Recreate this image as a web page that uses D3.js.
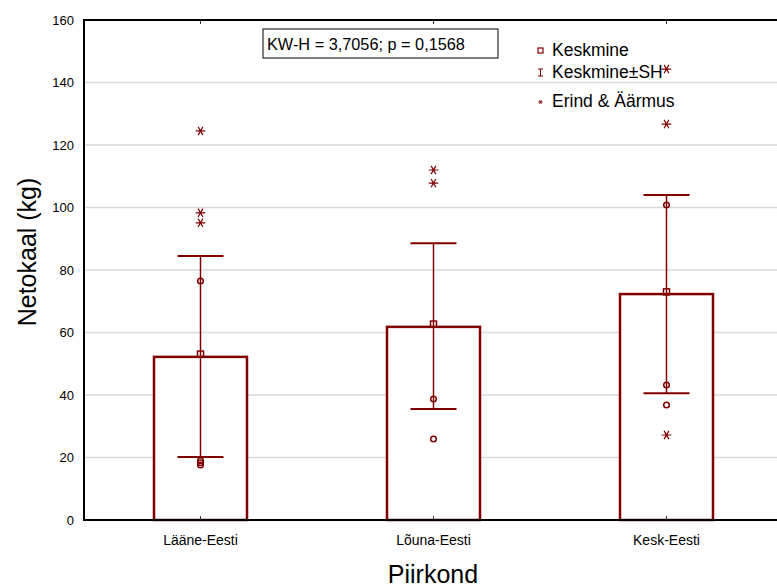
<!DOCTYPE html>
<html>
<head>
<meta charset="utf-8">
<script src="https://d3js.org/d3.v7.min.js"></script>
<style>
  body { margin: 0; background: #fff; }
  svg { font-family: "Liberation Sans", Arial, sans-serif; }
</style>
</head>
<body>
<div id="viz"></div>
<script>
// regions and summary values
var regions = ["Lääne-Eesti", "Lõuna-Eesti", "Kesk-Eesti"];
var barValues = [52.2, 61.8, 72.3];
var means = [53.1, 62.7, 73.0];
var seHigh = [84.5, 88.6, 104.0];
var seLow = [20.2, 35.5, 40.6];
// outliers (circles) and extremes (stars)
var outliers = [[76.5, 17.6, 18.3, 19.0], [38.7, 25.9], [100.8, 43.2, 36.8]];
var extremes = [[124.5, 98.3, 95.1], [112.0, 107.8], [126.7, 144.3, 27.2]];
var yTicks = [0, 20, 40, 60, 80, 100, 120, 140, 160];
var statText = "KW-H = 3,7056; p = 0,1568";
var legendLabels = ["Keskmine", "Keskmine±SH", "Erind & Äärmus"];

var W = 777, H = 587;
var red = "#800000";
var pLeft = 84, pRight = 783, pTop = 20, pBottom = 520;

var svg = d3.select("#viz").append("svg").attr("width", W).attr("height", H);

var x = d3.scaleBand().domain(regions).range([pLeft, pRight]);
var y = d3.scaleLinear().domain([0, 160]).range([pBottom, pTop]);

// grid lines
svg.append("g").selectAll("line").data(yTicks.slice(1, -1)).enter().append("line")
  .attr("x1", pLeft).attr("x2", pRight)
  .attr("y1", function(d) { return y(d); }).attr("y2", function(d) { return y(d); })
  .style("stroke", "#d9d9d9").style("stroke-width", 1.3);

// y tick labels
svg.append("g").selectAll("text").data(yTicks).enter().append("text")
  .attr("x", pLeft - 10).attr("y", function(d) { return y(d) + 4.5; })
  .attr("text-anchor", "end").style("font-size", "13px").text(function(d) { return d; });

// bars
var bw = 93;
svg.append("g").selectAll("rect").data(regions).enter().append("rect")
  .attr("x", function(d) { return x(d) + x.bandwidth() / 2 - bw / 2; })
  .attr("y", function(d, i) { return y(barValues[i]); })
  .attr("width", bw)
  .attr("height", function(d, i) { return pBottom - y(barValues[i]); })
  .style("fill", "white").style("stroke", red).style("stroke-width", 2.5);

// error bars
var cap = 23;
var eb = svg.append("g").selectAll("g").data(regions).enter().append("g")
  .attr("transform", function(d) { return "translate(" + (x(d) + x.bandwidth() / 2) + ",0)"; });
eb.append("line").attr("x1", 0).attr("x2", 0)
  .attr("y1", function(d, i) { return y(seHigh[i]); })
  .attr("y2", function(d, i) { return y(seLow[i]); })
  .style("stroke", red).style("stroke-width", 1.5);
eb.append("line").attr("x1", -cap).attr("x2", cap)
  .attr("y1", function(d, i) { return y(seHigh[i]); })
  .attr("y2", function(d, i) { return y(seHigh[i]); })
  .style("stroke", red).style("stroke-width", 2);
eb.append("line").attr("x1", -cap).attr("x2", cap)
  .attr("y1", function(d, i) { return y(seLow[i]); })
  .attr("y2", function(d, i) { return y(seLow[i]); })
  .style("stroke", red).style("stroke-width", 2);

// mean squares
eb.append("rect").attr("x", -3).attr("width", 6).attr("height", 6)
  .attr("y", function(d, i) { return y(means[i]) - 3; })
  .style("fill", "none").style("stroke", red).style("stroke-width", 1.5);

// outlier circles
eb.selectAll("circle").data(function(d, i) { return outliers[i]; }).enter().append("circle")
  .attr("cx", 0).attr("cy", function(d) { return y(d); }).attr("r", 2.8)
  .style("fill", "none").style("stroke", red).style("stroke-width", 1.5);

// extreme stars
function star(s) {
  var p = "M0," + (-s) + "L0," + s;
  for (var k = 0; k < 2; k++) {
    var a = Math.PI / 6 + k * Math.PI * 2 / 3;
    p += "M" + (-s * Math.cos(a)) + "," + (-s * Math.sin(a)) + "L" + (s * Math.cos(a)) + "," + (s * Math.sin(a));
  }
  return p;
}
eb.selectAll("path.ext").data(function(d, i) { return extremes[i]; }).enter().append("path")
  .attr("class", "ext")
  .attr("transform", function(d) { return "translate(0," + y(d) + ") rotate(90)"; })
  .attr("d", star(4.8))
  .style("fill", "none").style("stroke", red).style("stroke-width", 1.2);

// axes frame
svg.append("line").attr("x1", pLeft).attr("x2", pLeft).attr("y1", pTop - 1).attr("y2", pBottom + 1)
  .style("stroke", "#000").style("stroke-width", 2);
svg.append("line").attr("x1", pLeft - 1).attr("x2", pRight).attr("y1", pBottom).attr("y2", pBottom)
  .style("stroke", "#000").style("stroke-width", 2);
svg.append("line").attr("x1", pLeft - 1).attr("x2", pRight).attr("y1", pTop).attr("y2", pTop)
  .style("stroke", "#000").style("stroke-width", 2);

// category ticks
svg.append("g").selectAll("line").data(regions).enter().append("line")
  .attr("x1", function(d) { return x(d) + x.bandwidth() / 2; })
  .attr("x2", function(d) { return x(d) + x.bandwidth() / 2; })
  .attr("y1", pBottom).attr("y2", pBottom - 4)
  .style("stroke", "#333").style("stroke-width", 1);
svg.append("g").selectAll("line").data(regions).enter().append("line")
  .attr("x1", function(d) { return x(d) + x.bandwidth() / 2; })
  .attr("x2", function(d) { return x(d) + x.bandwidth() / 2; })
  .attr("y1", pTop).attr("y2", pTop + 4)
  .style("stroke", "#333").style("stroke-width", 1);

// category labels
svg.append("g").selectAll("text").data(regions).enter().append("text")
  .attr("x", function(d) { return x(d) + x.bandwidth() / 2; })
  .attr("y", 545).attr("text-anchor", "middle")
  .style("font-size", "14px").text(function(d) { return d; });

// axis titles
svg.append("text").attr("x", 433).attr("y", 583).attr("text-anchor", "middle")
  .style("font-size", "25px").text("Piirkond");
svg.append("text").attr("transform", "translate(36,252) rotate(-90)").attr("text-anchor", "middle")
  .style("font-size", "25px").text("Netokaal (kg)");

// stat box
svg.append("rect").attr("x", 263).attr("y", 29).attr("width", 235).attr("height", 29)
  .style("fill", "white").style("stroke", "#000").style("stroke-width", 1);
svg.append("text").attr("x", 267).attr("y", 50).style("font-size", "16.3px").text(statText);

// legend
var lg = svg.append("g");
var ly = [50, 72, 101];
lg.selectAll("text").data(legendLabels).enter().append("text")
  .attr("x", 552).attr("y", function(d, i) { return ly[i] + 6; })
  .style("font-size", "17.5px").text(function(d) { return d; });
lg.append("rect").attr("x", 538).attr("y", ly[0] - 2).attr("width", 5).attr("height", 5)
  .style("fill", "none").style("stroke", red).style("stroke-width", 1.2);
lg.append("path").attr("d", "M538," + (ly[1] - 3) + "h5M540.5," + (ly[1] - 3) + "v7M538," + (ly[1] + 4) + "h5")
  .style("fill", "none").style("stroke", red).style("stroke-width", 1);
lg.append("path").attr("transform", "translate(540.5," + (ly[2] + 1) + ") rotate(90)")
  .attr("d", star(2)).style("fill", "none").style("stroke", red).style("stroke-width", 1);
</script>
</body>
</html>
